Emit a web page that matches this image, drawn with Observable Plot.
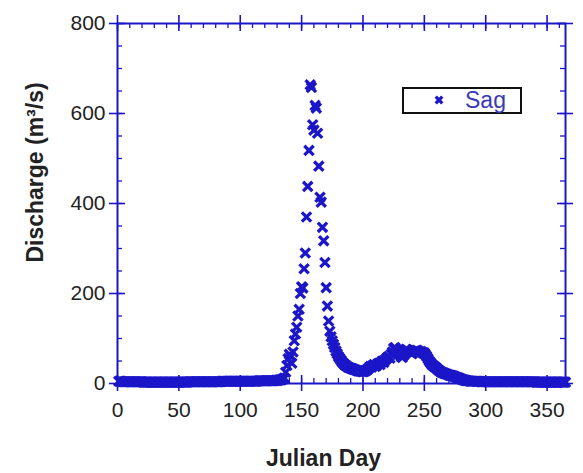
<!DOCTYPE html>
<html><head><meta charset="utf-8">
<script src="https://cdn.jsdelivr.net/npm/d3@7"></script>
<script src="https://cdn.jsdelivr.net/npm/@observablehq/plot@0.6"></script>
<style>
body{margin:0;background:#fff;font-family:"Liberation Sans",Arial,sans-serif;}
#wrap{position:relative;width:583px;height:473px;}
#legend{position:absolute;left:402px;top:87px;width:120px;height:27px;box-sizing:border-box;border:2.5px solid #111;background:#fff;}
#legend svg{position:absolute;left:29px;top:5px;}
#legend span{position:absolute;left:61px;top:0px;font-size:23px;line-height:22px;color:#3a3ab8;}
</style></head><body><div id="wrap"></div>
<script>
// Daily discharge (m3/s) of the Sag river, Julian day 1..365
const discharge = [
  5,5,5,4,4,4,4,4,4,4,4,4,4,4,4,
  4,4,4,4,4,3,3,3,3,3,3,3,3,3,3,
  3,3,3,3,3,3,3,3,3,3,3,3,3,3,3,
  3,3,3,3,3,3,3,3,3,3,3,3,4,4,4,
  4,4,4,4,4,4,4,4,4,4,4,4,4,4,4,
  4,4,4,4,4,4,4,4,4,5,5,5,5,5,5,
  5,5,5,5,5,5,5,5,5,5,5,5,5,5,5,
  5,5,5,5,5,5,5,5,5,6,6,6,6,6,6,
  6,6,6,6,6,6,6,6,7,7,7,8,8,9,10,
  12,25,40,55,65,60,45,70,95,110,125,150,165,200,215,
  212,255,290,370,438,518,664,658,575,563,618,612,556,483,414,
  403,347,317,269,213,172,139,116,104,95,87,80,72,66,60,
  56,52,48,45,42,40,38,36,35,34,33,32,31,30,29,
  28,28,27,27,26,27,28,30,32,35,38,36,40,42,38,
  40,44,45,42,48,50,47,52,55,58,60,56,65,70,78,
  80,76,74,72,65,60,58,62,70,76,75,72,70,68,66,
  70,72,73,74,72,70,71,70,68,68,64,60,55,50,46,
  43,40,38,36,34,31,29,27,25,24,23,22,21,20,19,
  18,18,17,16,15,14,13,12,11,10,9,8,7,7,6,
  6,5,5,5,5,5,5,5,5,5,4,4,4,4,4,
  4,4,4,4,4,4,4,4,4,4,4,4,4,4,4,
  4,4,4,4,4,4,4,4,4,4,4,4,4,4,4,
  4,4,4,4,4,4,4,4,4,4,3,3,3,3,3,
  3,3,3,3,3,3,3,3,3,3,3,3,3,3,3,
  3,3,3,3,3
];
const firstDay = 1;
const xTicks = [0, 50, 100, 150, 200, 250, 300, 350];
const yTicks = [0, 200, 400, 600, 800];
const xMinor = d3.range(0, 366, 10);
const yMinor = d3.range(0, 801, 50);
const seriesName = "Sag";

const data = discharge.map((q, i) => ({day: firstDay + i, q}));

const W = 583, H = 473;
const mL = 117, mR = 18, mT = 23, mB = 90;
const pw = W - mL - mR, ph = H - mT - mB;
const blue = "#1c16c9";
const font = "Liberation Sans, Arial, Helvetica, sans-serif";

const chart = Plot.plot({
  width: W, height: H,
  marginLeft: mL, marginRight: mR, marginTop: mT, marginBottom: mB,
  style: {fontFamily: font, background: "#fff", overflow: "visible"},
  x: {domain: [0, 365], axis: null},
  y: {domain: [0, 800], axis: null},
  marks: [
    Plot.tickX(xMinor, {x: d => d, stroke: blue, strokeWidth: 1.3, insetTop: ph - 5}),
    Plot.tickX(xMinor, {x: d => d, stroke: blue, strokeWidth: 1.3, insetBottom: ph - 5}),
    Plot.tickY(yMinor, {y: d => d, stroke: blue, strokeWidth: 1.3, insetRight: pw - 5}),
    Plot.tickY(yMinor, {y: d => d, stroke: blue, strokeWidth: 1.3, insetLeft: pw - 5}),
    Plot.tickX(xTicks, {x: d => d, stroke: blue, strokeWidth: 1.6, insetTop: ph - 16, dy: 8}),
    Plot.tickX(xTicks, {x: d => d, stroke: blue, strokeWidth: 1.6, insetBottom: ph - 16, dy: -8}),
    Plot.tickY(yTicks, {y: d => d, stroke: blue, strokeWidth: 1.6, insetRight: pw - 16, dx: -8}),
    Plot.tickY(yTicks, {y: d => d, stroke: blue, strokeWidth: 1.6, insetLeft: pw - 16, dx: 8}),
    Plot.frame({stroke: blue, strokeWidth: 2}),
    Plot.axisX(xTicks, {tickSize: 0, tickPadding: 19, fontSize: 21, fill: "#222", label: null}),
    Plot.axisY(yTicks, {tickSize: 0, tickPadding: 12, fontSize: 21, fill: "#222", label: null}),
    Plot.dot(data, {x: "day", y: "q", symbol: "times", r: 4.3, stroke: blue, strokeWidth: 3.3}),
    Plot.text(["Julian Day"], {frameAnchor: "bottom", dx: -18, dy: 82, fontSize: 23, fontWeight: "bold", fill: "#222"}),
    Plot.text(["Discharge (m³/s)"], {frameAnchor: "left", textAnchor: "middle", rotate: -90, dx: -82, dy: -31, fontSize: 23, fontWeight: "bold", fill: "#222"})
  ]
});

const wrap = document.getElementById("wrap");
wrap.appendChild(chart);
const legend = document.createElement("div");
legend.id = "legend";
legend.innerHTML = `<svg width="12" height="12" viewBox="-6 -6 12 12"><path d="${d3.symbol(d3.symbolTimes, 30)()}" stroke="${blue}" stroke-width="3.3" fill="none"/></svg><span>${seriesName}</span>`;
wrap.appendChild(legend);
</script>
</body></html>
